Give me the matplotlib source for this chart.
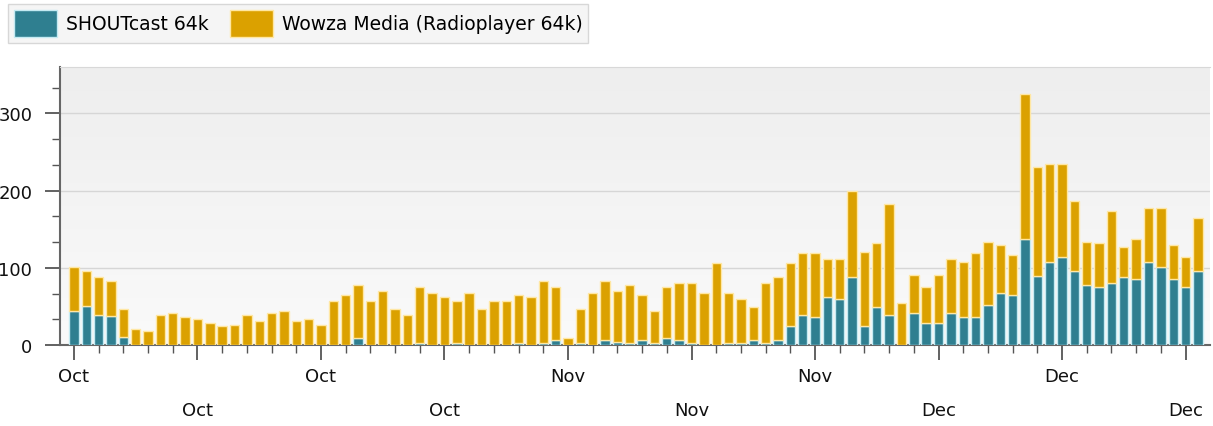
"""Daily listener sessions by stream, Oct-Dec (stacked bars)."""

import matplotlib

matplotlib.use("Agg")
import matplotlib.pyplot as plt
import numpy as np
import pandas as pd
from matplotlib.colors import LinearSegmentedColormap
from matplotlib.ticker import MultipleLocator

START = "2013-10-01"
N_DAYS = 92

# totals per day (stack height) and SHOUTcast part
TOTAL = [
    101, 96, 88, 83, 47, 21, 18, 39, 42, 36,
    34, 28, 24, 26, 39, 31, 41, 44, 31, 34,
    26, 57, 65, 78, 57, 70, 47, 39, 75, 67,
    62, 57, 67, 47, 57, 57, 65, 62, 83, 75,
    9, 47, 67, 83, 70, 78, 65, 44, 75, 80,
    80, 67, 106, 67, 60, 49, 80, 88, 106, 119,
    119, 111, 111, 199, 121, 132, 183, 54, 91, 75,
    91, 111, 108, 119, 134, 129, 116, 325, 230, 235,
    235, 186, 134, 132, 173, 127, 137, 178, 178, 129,
    114, 165,
]
SHOUTCAST = [
    44, 50, 39, 37, 11, 0, 0, 0, 0, 0,
    0, 0, 0, 0, 0, 0, 0, 0, 0, 0,
    0, 0, 0, 9, 0, 0, 0, 0, 2, 0,
    0, 2, 0, 0, 0, 0, 3, 0, 3, 6,
    0, 2, 0, 6, 4, 2, 6, 2, 9, 6,
    2, 0, 0, 2, 2, 6, 2, 6, 24, 39,
    36, 62, 60, 88, 24, 49, 39, 0, 41, 28,
    28, 41, 36, 36, 52, 67, 65, 137, 90, 108,
    114, 96, 78, 75, 80, 88, 85, 108, 101, 85,
    75, 96,
]
LABELS = ["SHOUTcast 64k", "Wowza Media (Radioplayer 64k)"]

TEAL = "#2f7f90"
TEAL_EDGE = "#c4eaf2"
GOLD = "#dba100"
GOLD_EDGE = "#ffe7a3"


def main() -> None:
    days = pd.date_range(START, periods=N_DAYS, freq="D")
    shout = np.array(SHOUTCAST)
    wowza = np.array(TOTAL) - shout
    x0 = days[0] - pd.Timedelta(days=1.13)
    x1 = days[-1] + pd.Timedelta(days=0.98)

    fig = plt.figure(figsize=(12.13, 4.27), dpi=100)
    ax = fig.add_axes([60 / 1213, 1 - 346 / 427, 1150 / 1213, 278 / 427])

    # soft grey background gradient
    grad = np.linspace(0.0, 1.0, 256).reshape(-1, 1)
    bg = LinearSegmentedColormap.from_list("bg", ["#fafafa", "#eeeeee"])
    ax.imshow(grad, cmap=bg, aspect="auto", origin="lower",
              extent=[x0, x1, 0, 360], zorder=0)

    w = 0.76
    ax.bar(days, shout, width=w, color=TEAL, edgecolor=TEAL_EDGE, linewidth=1.0,
           label=LABELS[0], zorder=3)
    ax.bar(days, wowza, width=w, bottom=shout, color=GOLD, edgecolor=GOLD_EDGE,
           linewidth=1.0, label=LABELS[1], zorder=3)

    ax.set_xlim(x0, x1)
    ax.set_ylim(0, 360)

    ax.yaxis.set_major_locator(MultipleLocator(100))
    ax.yaxis.set_minor_locator(MultipleLocator(100 / 3))
    ax.grid(axis="y", which="major", color="#d6d6d6", linewidth=1.0, zorder=1)

    major = days[::10]
    ax.set_xticks(major)
    ax.set_xticks(days[::2], minor=True)
    ax.set_xticklabels(
        [d.strftime("%b") if i % 2 == 0 else "\n" + d.strftime("%b")
         for i, d in enumerate(major)])
    for lab in ax.get_xticklabels():
        lab.set_linespacing(2.1)

    ax.spines["right"].set_visible(False)
    ax.spines["top"].set_color("#d8d8d8")
    for s in ("left", "bottom"):
        ax.spines[s].set_color("#666666")
        ax.spines[s].set_linewidth(1.5)

    ax.tick_params(axis="both", which="major", length=11, width=1.3,
                   color="#555555", labelsize=13, labelcolor="#111111")
    ax.tick_params(axis="both", which="minor", length=6, width=1.0, color="#555555")
    ax.tick_params(axis="x", which="major", pad=5)
    ax.tick_params(axis="y", which="major", pad=9)

    fig.legend(loc="upper left", bbox_to_anchor=(8 / 1213, 1 - 5 / 427), ncol=2,
               frameon=True, fancybox=False, edgecolor="#cfcfcf", facecolor="#f3f3f3",
               fontsize=13.5, handlelength=2.3, handleheight=1.9, handletextpad=0.5,
               columnspacing=1.1, borderpad=0.3, borderaxespad=0)

    fig.savefig("out.png", dpi=100)
    plt.close(fig)


if __name__ == "__main__":
    main()
